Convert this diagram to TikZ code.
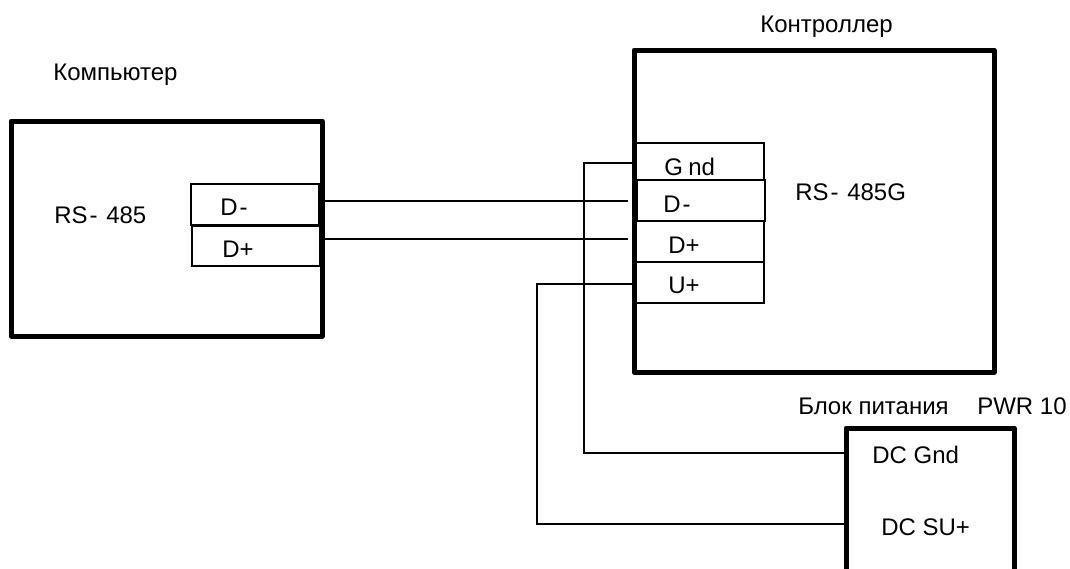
\documentclass[tikz,border=0pt]{standalone}
\usepackage{fontspec}
\setmainfont{Liberation Sans}
\tikzset{
  x=0.75pt,y=-0.75pt,
  bigbox/.style={draw=black,line width=3.75pt,line join=round,rectangle,inner sep=0pt},
  termbox/.style={draw=black,line width=1.2pt,rectangle,inner sep=0pt},
  wire/.style={draw=black,line width=1pt},
  lbl/.style={inner sep=0pt,font=\fontsize{18}{21}\selectfont,text=black,anchor=base west}
}
\newcommand{\bx}[6]{\node[#1,minimum width=#5*0.75pt-#4*0.75pt,minimum height=#6*0.75pt-#3*0.75pt] (#2) at ({(#4+#5)/2},{(#3+#6)/2}) {};}
\begin{document}
\begin{tikzpicture}
\clip (0,0) rectangle (1070,568);
\fill[white] (0,0) rectangle (1070,568);
% args: style,name,top,left,right,bottom
\bx{termbox}{cdm}{184}{191}{319}{225}
\bx{termbox}{cdp}{226}{192}{320}{266}
\bx{termbox}{kgnd}{143}{636}{764}{180}
\bx{termbox}{kdp}{221}{636}{764}{262}
\bx{termbox}{kup}{262}{636}{764}{303}
\bx{termbox}{kdm}{180}{637}{765}{221}
\bx{bigbox}{comp}{121}{11}{322}{336}
\bx{bigbox}{ctrl}{50}{634}{994}{372}
\bx{bigbox}{pwr}{428}{846}{1014}{590}
\coordinate (w1a) at (324,201); \coordinate (w1b) at (628,201);
\coordinate (w2a) at (324,239); \coordinate (w2b) at (628,239);
\coordinate (g0) at (634,163); \coordinate (g1) at (584,163); \coordinate (g2) at (584,453); \coordinate (g3) at (846,453);
\coordinate (u0) at (634,284); \coordinate (u1) at (537,284); \coordinate (u2) at (537,524); \coordinate (u3) at (848,524);
\draw[wire] (w1a) -- (w1b);
\draw[wire] (w2a) -- (w2b);
\draw[wire] (g0) -- (g1) -- (g2) -- (g3);
\draw[wire] (u0) -- (u1) -- (u2) -- (u3);
\node[lbl] (t1) at (53,80) {Компьютер};
\node[lbl] (t2) at (760,32) {Контроллер};
\node[lbl] (t3) at (798,414) {Блок питания};
\node[lbl] (t4) at (977,414) {PWR 10};
\node[lbl] (t5) at (54,223) {RS\kern1.5pt-\kern1.5pt{} 485};
\node[lbl] (t6) at (795,200) {RS\kern1.5pt-\kern1.5pt{} 485G};
\node[lbl] (t7) at (220,215) {D\kern1.5pt-};
\node[lbl] (t8) at (222,257) {D+};
\node[lbl] (t9) at (664,175) {G\kern4pt nd};
\node[lbl] (t10) at (663,212) {D\kern1.5pt-};
\node[lbl] (t11) at (668,253) {D+};
\node[lbl] (t12) at (668,293) {U+};
\node[lbl] (t13) at (872,463) {DC Gnd};
\node[lbl] (t14) at (881,535) {DC SU+};
\end{tikzpicture}
\end{document}
